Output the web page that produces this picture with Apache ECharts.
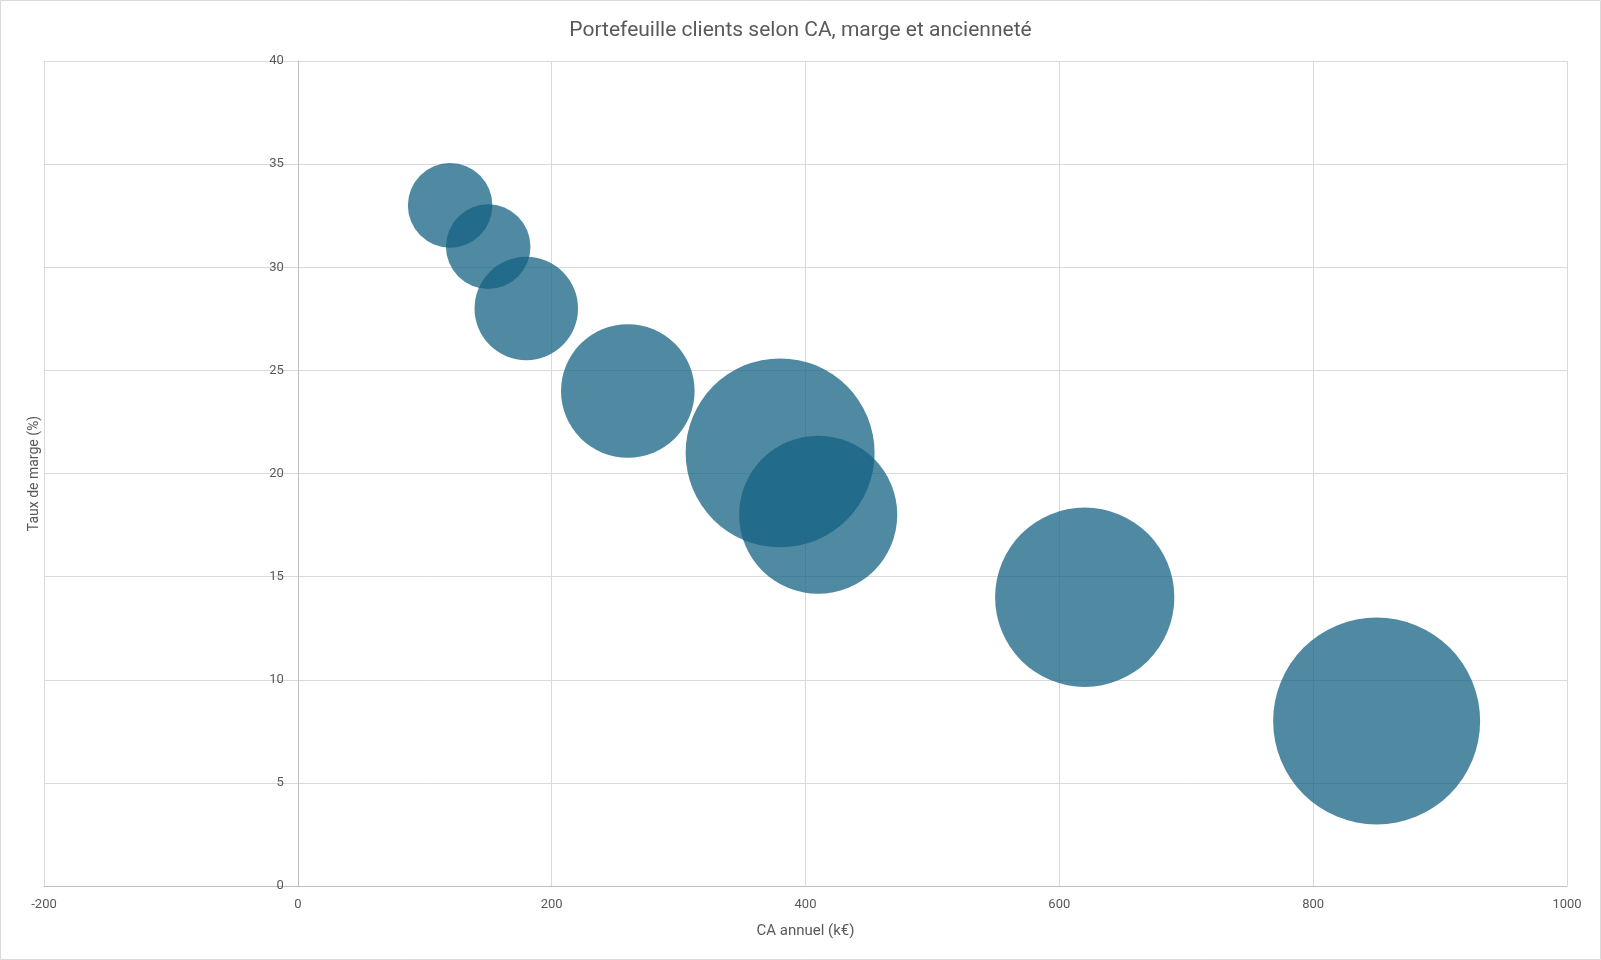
<!DOCTYPE html>
<html>
<head>
<meta charset="utf-8">
<script src="https://cdn.jsdelivr.net/npm/echarts@6/dist/echarts.min.js"></script>
<style>
html,body{margin:0;padding:0;background:#fff;}
#chart{width:1601px;height:960px;}
</style>
</head>
<body>
<div id="chart"></div>
<script>
// Data
const caAnnuel = [120, 150, 180, 260, 380, 410, 620, 850];      // CA annuel (k€)
const tauxMarge = [33, 31, 28, 24, 21, 18, 14, 8];              // Taux de marge (%)
const anciennete = [2, 2, 3, 5, 10, 7, 9, 12];                   // Ancienneté (années)
const xTicks = {min: -200, max: 1000, interval: 200};
const yTicks = {min: 0, max: 40, interval: 5};

const maxSize = Math.max(...anciennete);
const maxDiameter = 207;
const points = caAnnuel.map((x, i) => [x, tauxMarge[i], anciennete[i]]);

const gridLeft = 44, gridRight = 34;
const plotWidth = 1601 - gridLeft - gridRight;
// shift the y axis so it crosses the x axis at 0
const yAxisShift = plotWidth * (0 - xTicks.min) / (xTicks.max - xTicks.min);

const font = 'Roboto, "Noto Sans", sans-serif';
const chart = echarts.init(document.getElementById('chart'));
chart.setOption({
  animation: false,
  backgroundColor: '#ffffff',
  title: {
    text: 'Portefeuille clients selon CA, marge et ancienneté',
    left: 'center',
    top: 15,
    textStyle: {fontFamily: font, fontSize: 21, fontWeight: 'normal', color: '#595959'}
  },
  graphic: [{
    type: 'rect',
    shape: {x: 0.5, y: 0.5, width: 1600, height: 959},
    style: {fill: 'none', stroke: '#d9d9d9', lineWidth: 1},
    silent: true
  }],
  grid: {left: gridLeft, right: gridRight, top: 61, bottom: 74, containLabel: false, outerBoundsMode: 'none'},
  xAxis: {
    type: 'value',
    min: xTicks.min, max: xTicks.max, interval: xTicks.interval,
    name: 'CA annuel (k€)',
    nameLocation: 'middle',
    nameGap: 38,
    nameTextStyle: {fontFamily: font, fontSize: 15, color: '#595959'},
    axisLine: {show: true, onZero: false, lineStyle: {color: '#bfbfbf'}},
    axisTick: {show: false},
    axisLabel: {fontFamily: font, fontSize: 13, color: '#595959', margin: 12, formatter: v => String(v)},
    splitLine: {show: true, lineStyle: {color: '#d9d9d9'}}
  },
  yAxis: {
    type: 'value',
    position: 'left',
    offset: -yAxisShift,
    min: yTicks.min, max: yTicks.max, interval: yTicks.interval,
    name: 'Taux de marge (%)',
    nameLocation: 'middle',
    nameGap: 256,
    nameRotate: 90,
    nameTextStyle: {fontFamily: font, fontSize: 14, color: '#595959'},
    axisLine: {show: true, onZero: false, lineStyle: {color: '#bfbfbf'}},
    axisTick: {show: false},
    axisLabel: {fontFamily: font, fontSize: 13, color: '#595959', margin: 14, formatter: v => String(v)},
    splitLine: {show: true, lineStyle: {color: '#d9d9d9'}}
  },
  series: [{
    type: 'scatter',
    data: points,
    symbol: 'circle',
    symbolSize: d => maxDiameter * Math.sqrt(d[2] / maxSize),
    itemStyle: {color: 'rgb(20,98,131)', opacity: 0.75, borderWidth: 0},
    z: 3
  }]
});
</script>
</body>
</html>
